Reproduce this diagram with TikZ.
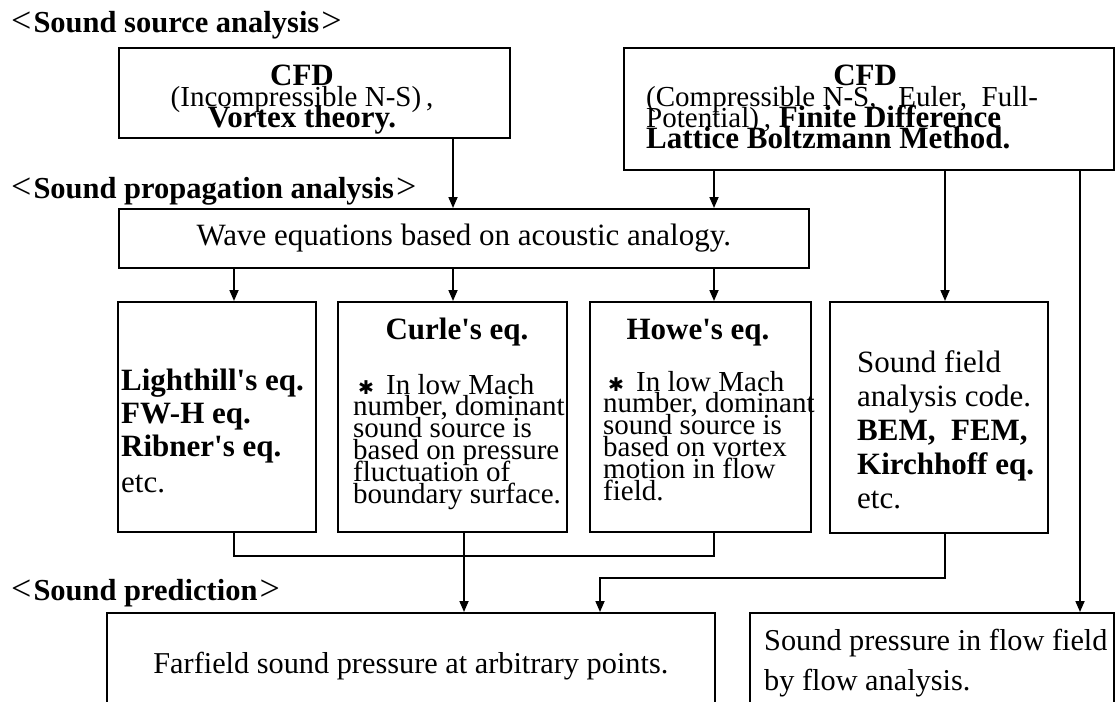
\documentclass[tikz,border=0pt]{standalone}
\usepackage{fontspec}
\setmainfont{Liberation Serif}
\newfontfamily\symfont{DejaVu Sans}
\usetikzlibrary{arrows.meta}
\newcommand\tightlines{\lineskiplimit=-100pt\relax}
\newcommand\headtxt{\fontsize{30.5}{32}\selectfont\bfseries}
\newcommand\bigtxt{\fontsize{31}{33}\selectfont\tightlines}
\newcommand\sftxt{\fontsize{31}{34}\selectfont\tightlines}
\newcommand\lowtxt{\fontsize{30.3}{40}\selectfont\tightlines}
\newcommand\cfdtxt{\fontsize{31}{21}\selectfont\tightlines}
\newcommand\cfdsmall{\fontsize{29}{21}\selectfont}
\newcommand\notetxt{\fontsize{29}{21.8}\selectfont\tightlines}
\newcommand\heavyast{\hspace*{5pt}{\symfont\fontsize{19}{19}\selectfont ✱}\ \,}
\newcommand\ltb{{\mdseries\fontsize{36}{36}\selectfont<}\kern2pt}
\newcommand\gtb{\kern2pt{\mdseries\fontsize{36}{36}\selectfont>}}
\newcommand\ap{\textquotesingle}
\begin{document}
\begin{tikzpicture}[x=1pt,y=-1pt,>={Triangle[length=11pt,width=9pt]},
  box/.style={draw,line width=1.7pt,anchor=north west,inner sep=0pt},
  head/.style={anchor=base west,inner sep=0pt,font=\headtxt},
  body/.style={anchor=base west,inner sep=0pt,align=flush left,font=\bigtxt},
  note/.style={anchor=base west,inner sep=0pt,align=flush left,font=\notetxt,text width=215pt},
  ttl/.style={anchor=base,inner sep=0pt,font=\bigtxt\bfseries},
  ln/.style={line width=1.7pt},
  arr/.style={line width=1.7pt,->}]
\useasboundingbox (0,0) rectangle (1118,701);

\node[head] (hsrc) at (11,33) {\ltb Sound source analysis\gtb};
\node[head] (hprop) at (11,198) {\ltb Sound propagation analysis\gtb};
\node[head] (hpred) at (11,600) {\ltb Sound prediction\gtb};

\node[box,minimum width=391pt,minimum height=90pt] (cfdA) at (118,47) {};
\node[box,minimum width=490pt,minimum height=122pt] (cfdB) at (623,47) {};
\node[anchor=base,inner sep=0pt,align=flush center,text width=380pt,font=\cfdtxt] (cfdAtxt) at (302,85)
  {\textbf{CFD}\\{\cfdsmall(Incompressible N-S)\,,}\\\textbf{Vortex theory.}};
\node[anchor=base west,inner sep=0pt,align=flush left,text width=438pt,font=\cfdtxt] (cfdBtxt) at (646,85)
  {\makebox[\linewidth]{\textbf{CFD}}\\{\cfdsmall(Compressible N-S,\ \ \ Euler,\ \ Full-}\\{\cfdsmall Potential)\,,} \textbf{Finite Difference}\\\textbf{Lattice Boltzmann Method.}};

\node[box,minimum width=690pt,minimum height=59pt,font=\bigtxt] (wave) at (118,208) {Wave equations based on acoustic analogy.};

\node[box,minimum width=198pt,minimum height=230pt] (lh) at (117,301) {};
\node[box,minimum width=229pt,minimum height=230pt] (curle) at (337,301) {};
\node[box,minimum width=221pt,minimum height=230pt] (howe) at (589,301) {};
\node[box,minimum width=218pt,minimum height=231pt] (sf) at (829,301) {};

\node[body,text width=192pt] (lhtxt) at (121,390)
  {\textbf{Lighthill\ap s eq.}\\\textbf{FW-H eq.}\\\textbf{Ribner\ap s eq.}\\[3pt]etc.};
\node[ttl] (curlettl) at (457,339) {Curle\ap s eq.};
\node[note] (curletxt) at (353,394)
  {\heavyast In low Mach\\number, dominant\\sound source is\\based on pressure\\fluctuation of\\boundary surface.};
\node[ttl] (howettl) at (698,339) {Howe\ap s eq.};
\node[note] (howetxt) at (603,391)
  {\heavyast In low Mach\\number, dominant\\sound source is\\based on vortex\\motion in flow\\field.};
\node[body,text width=185pt,font=\sftxt] (sftxt) at (857,372)
  {Sound field\\analysis code.\\\textbf{BEM,\ \ FEM,}\\\textbf{Kirchhoff eq.}\\etc.};

\node[box,minimum width=608pt,minimum height=106pt,font=\lowtxt] (far) at (106,612) {Farfield sound pressure at arbitrary points.};
\node[box,minimum width=364pt,minimum height=120pt] (flow) at (749,612) {};
\node[anchor=base west,inner sep=0pt,align=flush left,text width=350pt,font=\lowtxt] (flowtxt) at (764,650)
  {Sound pressure in flow field\\by flow analysis.};

\draw[arr] (453,0 |- cfdA.south) -- (453,0 |- wave.north);
\draw[arr] (714,0 |- cfdB.south) -- (714,0 |- wave.north);
\draw[arr] (945,0 |- cfdB.south) -- (945,0 |- sf.north);
\draw[arr] (1080,0 |- cfdB.south) -- (1080,0 |- flow.north);
\draw[arr] (234,0 |- wave.south) -- (234,0 |- lh.north);
\draw[arr] (453,0 |- wave.south) -- (453,0 |- curle.north);
\draw[arr] (714,0 |- wave.south) -- (714,0 |- howe.north);
\draw[ln] (234,0 |- lh.south) -- (234,556) -| (714,0 |- howe.south);
\draw[arr] (464,0 |- curle.south) -- (464,0 |- far.north);
\draw[arr] (945,0 |- sf.south) |- (600,578) -- (600,0 |- far.north);
\end{tikzpicture}
\end{document}
